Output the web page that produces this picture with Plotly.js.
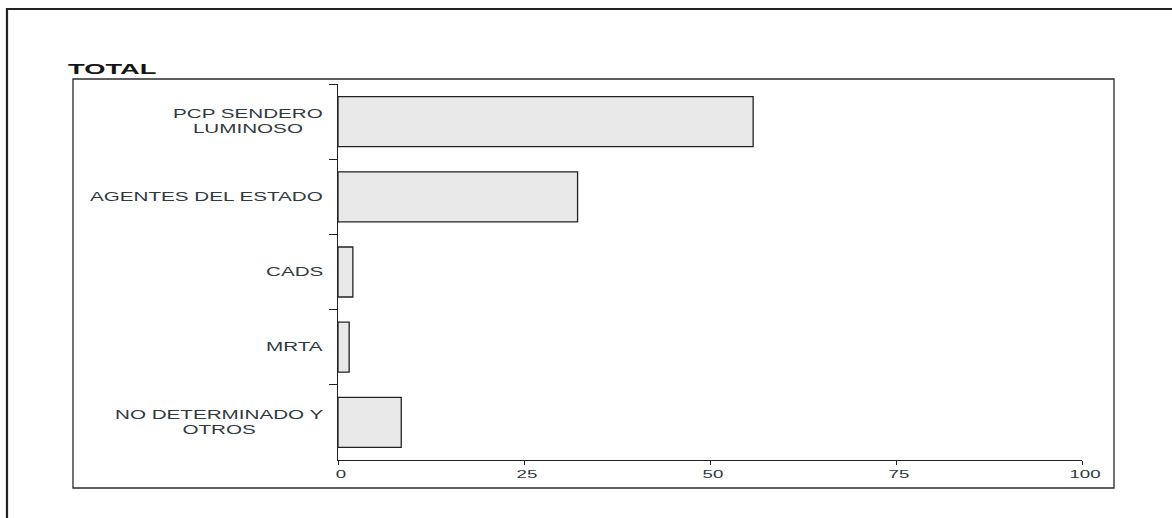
<!DOCTYPE html>
<html><head><meta charset="utf-8">
<script src="https://cdn.plot.ly/plotly-3.0.1.min.js"></script>
<style>
html,body{margin:0;padding:0;background:#fff;}
#chart{width:1172px;height:518px;}
.annotation-text{transform-box:fill-box;transform-origin:right center;transform:scaleX(1.72);}
.gtitle{transform-box:fill-box;transform-origin:left center;transform:scaleX(1.95);}
g.xtick{transform-box:fill-box;transform-origin:center;transform:scaleX(1.7);}
</style></head><body><div id="chart"></div>
<script>
const chartTitle = 'TOTAL';
const categories = ['PCP SENDERO<br>LUMINOSO', 'AGENTES DEL ESTADO', 'CADS', 'MRTA', 'NO DETERMINADO Y<br>OTROS'];
const values = [55.8, 32.2, 2.0, 1.5, 8.5];
const xTickVals = [0, 25, 50, 75, 100];
const xTickText = ['0', '25', '50', '75', '100'];

const textColor = '#2f3a3f';
const lineColor = '#222222';

const trace = {
  type: 'bar',
  orientation: 'h',
  x: values,
  y: categories,
  marker: {color: '#e9e9e9', line: {color: lineColor, width: 1.3}},
  hoverinfo: 'x+y'
};

const annotations = categories.map(c => ({
  xref: 'paper', yref: 'y',
  x: -0.0175, y: c,
  xanchor: 'right', yanchor: 'middle',
  align: 'center',
  showarrow: false,
  text: c,
  font: {family: 'Liberation Sans, Arial, sans-serif', size: 12, color: textColor}
}));

const layout = {
  width: 1172, height: 518,
  margin: {l: 338, r: 90, t: 84, b: 58, pad: 0},
  paper_bgcolor: '#ffffff', plot_bgcolor: '#ffffff',
  showlegend: false,
  bargap: 0.335,
  title: {
    text: chartTitle,
    xref: 'container', yref: 'container',
    x: 68 / 1172, xanchor: 'left',
    y: 1 - 69 / 518, yanchor: 'middle',
    font: {family: 'Liberation Sans, Arial, sans-serif', size: 14, color: '#151515', weight: 'bold'}
  },
  xaxis: {
    range: [0, 100],
    tickvals: xTickVals, ticktext: xTickText,
    ticks: 'outside', ticklen: 4, tickwidth: 1, tickcolor: lineColor,
    ticklabelshift: 3,
    showline: true, linecolor: lineColor, linewidth: 1,
    showgrid: false, zeroline: false,
    tickfont: {family: 'Liberation Sans, Arial, sans-serif', size: 11, color: textColor},
    fixedrange: true
  },
  yaxis: {
    type: 'category',
    categoryorder: 'array', categoryarray: categories,
    range: [4.5, -0.5],
    tickson: 'boundaries',
    ticks: 'outside', ticklen: 8, tickwidth: 1, tickcolor: lineColor,
    showticklabels: false,
    showline: true, linecolor: lineColor, linewidth: 1,
    showgrid: false, zeroline: false,
    fixedrange: true
  },
  annotations: annotations,
  shapes: [
    {type: 'rect', xref: 'paper', yref: 'paper', x0: -0.3562, x1: 1.0430, y0: -0.0745, y1: 1.0133,
     line: {color: '#2a2a2a', width: 1.3}, fillcolor: 'rgba(0,0,0,0)', layer: 'below'},
    {type: 'rect', xref: 'paper', yref: 'paper', x0: -0.4449, x1: 1.1586, y0: -0.2128, y1: 1.1995,
     line: {color: '#222222', width: 2.2}, fillcolor: 'rgba(0,0,0,0)', layer: 'below'}
  ]
};

Plotly.newPlot('chart', [trace], layout, {displayModeBar: false, staticPlot: true});
</script>
</body></html>
